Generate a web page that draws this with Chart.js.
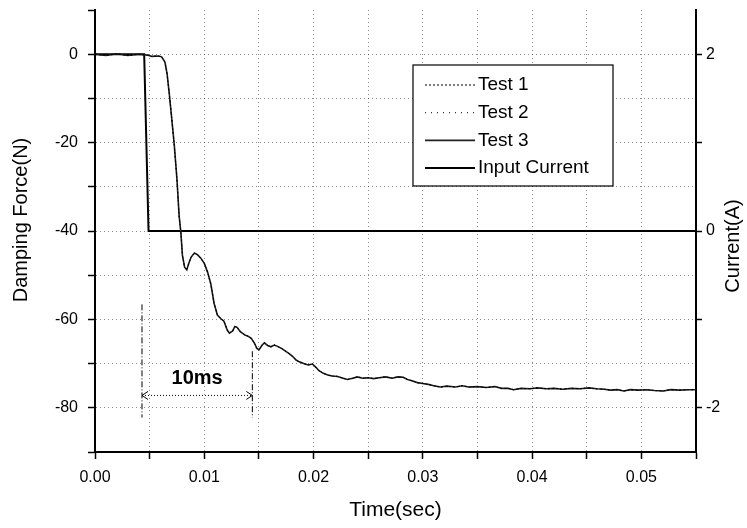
<!DOCTYPE html>
<html lang="en">
<head>
<meta charset="UTF-8">
<title>Damping Force vs Time</title>
<script src="https://cdn.jsdelivr.net/npm/chart.js@4.4.1/dist/chart.umd.min.js"></script>
<style>
  body { margin: 0; background: #fff; }
  canvas { display: block; }
</style>
</head>
<body>
<canvas id="chart" width="747" height="528"></canvas>
<script>
// Values
const forceTime = [
  0, 0.0010, 0.0020, 0.0030, 0.0040, 0.0048, 0.0052, 0.0058, 0.0061,
  0.0064, 0.0066, 0.0068, 0.0070, 0.00725, 0.0075, 0.0077, 0.00786, 0.0080, 0.0082,
  0.0084, 0.0086, 0.0088, 0.0091, 0.0094, 0.0097, 0.0100, 0.0103, 0.0106, 0.0109,
  0.0112, 0.0115, 0.0118, 0.0121, 0.0123, 0.0126, 0.0128, 0.0130, 0.0133, 0.0137,
  0.0140, 0.0143, 0.0146, 0.0148, 0.0150, 0.0153, 0.0155, 0.0158, 0.0161, 0.0164,
  0.0167, 0.0171, 0.0175, 0.0178, 0.0181, 0.0184, 0.0187, 0.0191, 0.0195, 0.0199,
  0.0202, 0.0205, 0.0209, 0.0213, 0.0217, 0.0222, 0.0227, 0.0231, 0.0236, 0.0240,
  0.0245, 0.0250, 0.0255, 0.0260, 0.0266, 0.0272, 0.0277, 0.0282, 0.0286, 0.0290,
  0.0295, 0.0300, 0.0305, 0.0310, 0.0316, 0.0322, 0.0330, 0.0336, 0.0342, 0.0350,
  0.0358, 0.0366, 0.0372, 0.0378, 0.0383, 0.0390, 0.0398, 0.0405, 0.0413, 0.0420,
  0.0428, 0.0436, 0.0444, 0.0452, 0.0459, 0.0466, 0.0472, 0.0478, 0.0484, 0.0490,
  0.0497, 0.0505, 0.0512, 0.0520, 0.0527, 0.0535, 0.0543, 0.0550
];
const test3Force = [
  0, -0.3, 0.1, -0.3, 0, -0.2, -0.5, -0.4, -0.6,
  -1.8, -4.5, -9, -14, -20.4, -28.3, -36.6, -40.4, -45.5, -48.2,
  -48.8, -47.2, -45.9, -45.0, -45.4, -46.2, -47.3, -49.3, -52.0, -56.4,
  -59.0, -59.8, -60.4, -62.4, -63.1, -62.6, -61.6, -61.8, -62.8, -63.5,
  -63.8, -64.3, -65.4, -66.5, -66.9, -65.8, -65.3, -65.9, -66.2, -65.8,
  -66.1, -66.6, -67.3, -67.8, -68.4, -69.2, -69.6, -70.0, -70.3, -70.1,
  -70.8, -71.6, -72.2, -72.6, -72.8, -72.9, -73.3, -73.6, -73.3, -73.0,
  -73.3, -73.2, -73.4, -73.2, -73.0, -73.3, -73.0, -73.1, -73.6, -73.9,
  -74.3, -74.5, -74.7, -75.0, -75.3, -75.1, -75.3, -75.0, -75.3, -75.2,
  -75.4, -75.2, -75.6, -75.6, -75.9, -75.6, -75.7, -75.5, -75.7, -75.6,
  -75.8, -75.6, -75.7, -75.5, -75.7, -75.8, -76.0, -75.9, -76.2, -75.9,
  -76.0, -75.9, -76.1, -76.2, -75.9, -76.0, -75.9, -75.9
];
// the three tests lie on top of each other in the picture
const test1Force = test3Force.slice();
const test2Force = test3Force.slice();

const currentTime = [0, 0.0045, 0.0049, 0.055];
const inputCurrent = [2, 2, 0, 0];

const xTickLabels = [0, 0.01, 0.02, 0.03, 0.04, 0.05];
const yTickLabels = [-80, -60, -40, -20, 0];
const y2TickLabels = [-2, 0, 2];
const y2MinorTicks = [-2, -1, 0, 1, 2];

// 10ms span marker (data units)
const spanStart = 0.0043;
const spanEnd = 0.0144;
const spanLabel = '10ms';

const FONT = '"Liberation Sans", Arial, sans-serif';

function points(xs, ys) {
  return xs.map((v, i) => ({ x: v, y: ys[i] }));
}

function near(list, v) {
  return list.some(t => Math.abs(t - v) < 1e-9);
}

const gridColor = 'rgba(0,0,0,0.45)';

const spanPlugin = {
  id: 'span',
  afterDatasetsDraw(chart) {
    const { ctx, scales: { x, y } } = chart;
    const x1 = x.getPixelForValue(spanStart);
    const x2 = x.getPixelForValue(spanEnd);
    const ya = y.getPixelForValue(-77.2);
    const line = (ax, ay, bx, by) => { ctx.beginPath(); ctx.moveTo(ax, ay); ctx.lineTo(bx, by); ctx.stroke(); };
    ctx.save();
    ctx.strokeStyle = '#000';
    ctx.lineWidth = 1;
    ctx.setLineDash([6, 2, 1, 2]);
    line(x1, y.getPixelForValue(-56.6), x1, y.getPixelForValue(-82.2));
    line(x2, y.getPixelForValue(-67.2), x2, y.getPixelForValue(-82.2));
    ctx.setLineDash([1, 2]);
    line(x1, ya, x2, ya);
    ctx.setLineDash([]);
    line(x1 + 6, ya - 4, x1, ya); line(x1, ya, x1 + 6, ya + 4);
    line(x2 - 6, ya - 4, x2, ya); line(x2, ya, x2 - 6, ya + 4);
    ctx.fillStyle = '#000';
    ctx.font = 'bold 20px ' + FONT;
    ctx.textAlign = 'center';
    ctx.textBaseline = 'middle';
    ctx.fillText(spanLabel, x.getPixelForValue((spanStart + spanEnd) / 2), y.getPixelForValue(-73.3));
    ctx.restore();
  }
};

const legendPlugin = {
  id: 'boxLegend',
  afterDraw(chart) {
    const ctx = chart.ctx;
    const left = 413, top = 65, w = 200, h = 121;
    ctx.save();
    ctx.fillStyle = '#fff';
    ctx.fillRect(left, top, w, h);
    ctx.strokeStyle = '#000';
    ctx.lineWidth = 1.2;
    ctx.strokeRect(left, top, w, h);
    ctx.font = '19px ' + FONT;
    ctx.textBaseline = 'middle';
    ctx.fillStyle = '#000';
    chart.data.datasets.forEach((ds, i) => {
      const yy = top + 20 + i * 27.7;
      ctx.strokeStyle = ds.borderColor;
      ctx.lineWidth = ds.borderWidth;
      ctx.setLineDash(ds.borderDash || []);
      ctx.beginPath();
      ctx.moveTo(left + 12, yy);
      ctx.lineTo(left + 62, yy);
      ctx.stroke();
      ctx.setLineDash([]);
      ctx.fillText(ds.label, left + 65, yy);
    });
    // axis titles, both reading bottom to top
    ctx.font = '20px ' + FONT;
    ctx.textAlign = 'center';
    ctx.save();
    ctx.translate(21, 220);
    ctx.rotate(-Math.PI / 2);
    ctx.fillText('Damping Force(N)', 0, 0);
    ctx.restore();
    ctx.translate(733, 246);
    ctx.rotate(-Math.PI / 2);
    ctx.fillText('Current(A)', 0, 0);
    ctx.restore();
  }
};

const noPad = s => { s.paddingTop = 0; s.paddingBottom = 0; };

const ctx = document.getElementById('chart').getContext('2d');
const chart = new Chart(ctx, {
  type: 'line',
  data: {
    datasets: [
      { label: 'Test 1', data: points(forceTime, test1Force), borderColor: '#000', borderWidth: 1, borderDash: [2, 2], yAxisID: 'y' },
      { label: 'Test 2', data: points(forceTime, test2Force), borderColor: '#000', borderWidth: 1, borderDash: [1, 5], yAxisID: 'y' },
      { label: 'Test 3', data: points(forceTime, test3Force), borderColor: '#222', borderWidth: 1.6, yAxisID: 'y' },
      { label: 'Input Current', data: points(currentTime, inputCurrent), borderColor: '#000', borderWidth: 2, yAxisID: 'y2' }
    ]
  },
  options: {
    responsive: false,
    devicePixelRatio: 1,
    animation: false,
    layout: { padding: { top: 10, left: 0, right: 0, bottom: 0 } },
    elements: { point: { radius: 0 }, line: { tension: 0 } },
    plugins: { legend: { display: false }, tooltip: { enabled: false } },
    scales: {
      x: {
        type: 'linear',
        min: 0,
        max: 0.055,
        afterFit: s => { s.height = 76; },
        border: { color: '#000', width: 2, dash: [1, 3] },
        grid: { color: gridColor, tickColor: '#000', tickLength: 7, tickWidth: 1.5 },
        ticks: {
          stepSize: 0.005,
          autoSkip: false,
          maxRotation: 0,
          padding: 9,
          color: '#000',
          font: { family: FONT, size: 16 },
          callback: v => near(xTickLabels, v) ? v.toFixed(2) : ''
        },
        title: { display: true, text: 'Time(sec)', color: '#000', font: { family: FONT, size: 21 }, padding: { top: 0, bottom: 5 } }
      },
      y: {
        position: 'left',
        min: -90,
        max: 10,
        afterFit: s => { s.width = 95; noPad(s); },
        border: { color: '#000', width: 2, dash: [1, 3] },
        grid: {
          color: c => c.tick && c.tick.value === 10 ? 'rgba(0,0,0,0)' : gridColor,
          tickColor: '#000', tickLength: 7, tickWidth: 1.5
        },
        ticks: {
          stepSize: 10,
          padding: 10,
          color: '#000',
          font: { family: FONT, size: 16 },
          callback: v => near(yTickLabels, v) ? String(v) : ''
        }
      },
      y2: {
        position: 'right',
        min: -2.5,
        max: 2.5,
        afterFit: s => { s.width = 51; noPad(s); },
        afterBuildTicks: s => { s.ticks = y2MinorTicks.map(v => ({ value: v })); },
        border: { color: '#000', width: 2 },
        grid: { drawOnChartArea: false, tickColor: '#000', tickLength: 6, tickWidth: 1.5 },
        ticks: {
          padding: 4,
          color: '#000',
          font: { family: FONT, size: 16 },
          callback: v => near(y2TickLabels, v) ? String(v) : ''
        }
      }
    }
  },
  plugins: [spanPlugin, legendPlugin]
});
</script>
</body>
</html>
